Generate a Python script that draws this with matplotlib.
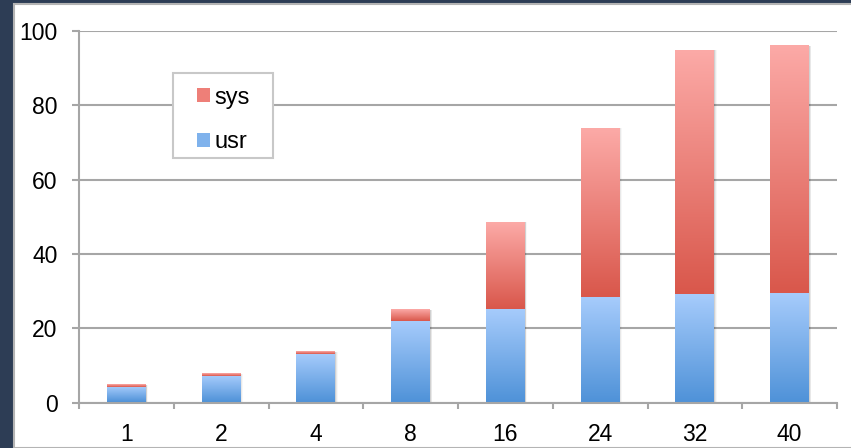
"""Stacked usr/sys time per thread count, drawn with gradient-filled bars."""
import matplotlib

matplotlib.use("Agg")
import matplotlib.pyplot as plt
import numpy as np
from matplotlib.colors import LinearSegmentedColormap
from matplotlib.patches import Rectangle

threads = ["1", "2", "4", "8", "16", "24", "32", "40"]
usr = [4.2, 7.1, 13.0, 21.9, 25.1, 28.4, 29.2, 29.5]
sys_time = [0.6, 0.7, 0.7, 3.0, 23.4, 45.4, 65.6, 66.5]

BG = "#2d3d55"
GRID = "#a6a6a6"
usr_cmap = LinearSegmentedColormap.from_list("usr", ["#4f92d8", "#a7ccfc"])
sys_cmap = LinearSegmentedColormap.from_list("sys", ["#d9574b", "#fcaaa7"])

plt.rcParams["font.family"] = ["Liberation Sans", "DejaVu Sans"]

fig = plt.figure(figsize=(8.51, 4.48), dpi=100, facecolor=BG)
# white slide panel behind the chart
fig.patches.append(Rectangle((14 / 851, 0), 1, 1 - 4 / 448, transform=fig.transFigure,
                             facecolor="white", edgecolor="#b4b4b4", linewidth=1.5, zorder=-1))

ax = fig.add_axes([79 / 851, 1 - 402.5 / 448, (837 - 79) / 851, (402.5 - 31) / 448])
ax.set_facecolor("none")

x = np.arange(len(threads))
width = 0.41
grad = np.linspace(0, 1, 256).reshape(-1, 1)


def gradient_bars(bars, cmap):
    for p in bars:
        x0, y0, w, h = p.get_x(), p.get_y(), p.get_width(), p.get_height()
        # soft shadow on the right
        for i, a in enumerate([0.10, 0.06, 0.03]):
            ax.add_patch(Rectangle((x0 + 0.008 * (i + 1), y0), w, h, facecolor="black",
                                   alpha=a, linewidth=0, zorder=2))
        ax.imshow(grad, cmap=cmap, extent=(x0, x0 + w, y0, y0 + h), origin="lower",
                  aspect="auto", zorder=3, interpolation="bilinear")


b_usr = ax.bar(x, usr, width, color="none", label="usr")
b_sys = ax.bar(x, sys_time, width, bottom=usr, color="none", label="sys")
gradient_bars(b_usr, usr_cmap)
gradient_bars(b_sys, sys_cmap)

ax.set_xlim(-0.5, len(threads) - 0.5)
ax.set_ylim(0, 100)
ax.set_yticks(range(0, 101, 20))
ax.set_xticks(x)
ax.set_xticklabels(threads)
ax.set_xticks(np.arange(len(threads) + 1) - 0.5, minor=True)

ax.yaxis.grid(True, color=GRID, linewidth=1.5, zorder=1)
ax.set_axisbelow(True)
for s in ["top", "right"]:
    ax.spines[s].set_visible(False)
for s in ["left", "bottom"]:
    ax.spines[s].set_color(GRID)
    ax.spines[s].set_linewidth(1.5)
    ax.spines[s].set_zorder(4)

ax.tick_params(axis="y", length=5, width=1.5, color=GRID, labelsize=16.5, pad=10.5)
ax.tick_params(axis="x", which="major", length=0, labelsize=16.5, pad=15)
ax.tick_params(axis="x", which="minor", length=4, width=1.5, color=GRID)

# legend box: wider horizontal padding than the legend's own frame allows
ax.add_patch(Rectangle((0.124, 0.658), 0.132, 0.229, transform=ax.transAxes,
                       facecolor="white", edgecolor="#c8c8c8", linewidth=1.5, zorder=5))
usr_patch = Rectangle((0, 0), 1, 1, facecolor="#7fb2ec")
sys_patch = Rectangle((0, 0), 1, 1, facecolor="#ee7f78")
leg = ax.legend([sys_patch, usr_patch], ["sys", "usr"], loc="upper left",
                bbox_to_anchor=(0.1557, 0.85), fontsize=17, frameon=False,
                handlelength=0.55, handleheight=0.55, handletextpad=0.2, labelspacing=0.95,
                borderpad=0, borderaxespad=0)
leg.set_zorder(6)

fig.savefig("out.png", dpi=100, facecolor=BG)
